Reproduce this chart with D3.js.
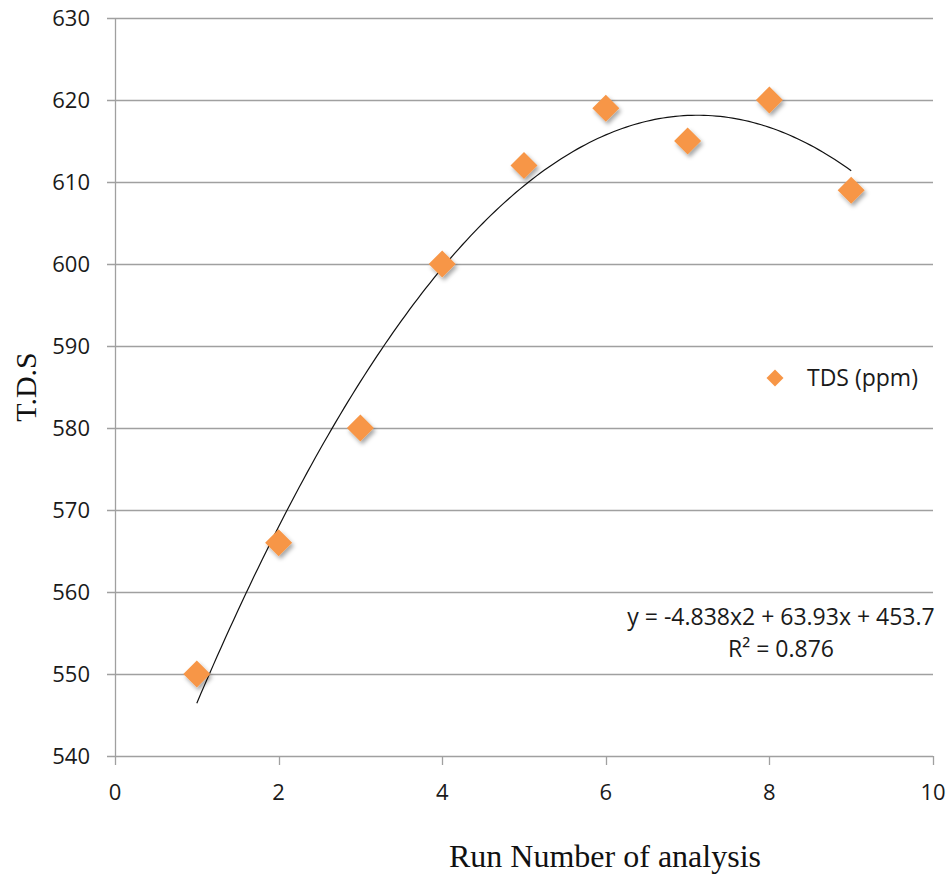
<!DOCTYPE html>
<html>
<head>
<meta charset="utf-8">
<script src="https://cdn.jsdelivr.net/npm/d3@7"></script>
<style>
  body { margin: 0; background: #fff; }
</style>
</head>
<body>
<div id="chart"></div>
<script>
const runs = [1, 2, 3, 4, 5, 6, 7, 8, 9];
const tds = [550, 566, 580, 600, 612, 619, 615, 620, 609];
const xTicks = [0, 2, 4, 6, 8, 10];
const yTicks = [540, 550, 560, 570, 580, 590, 600, 610, 620, 630];
const seriesName = "TDS (ppm)";
const equationText = "y = -4.838x2 + 63.93x + 453.7";
const r2Text = "R² = 0.876";

const width = 950;
const height = 875;
const margin = { left: 115, right: 17, top: 18, bottom: 119 };
const tickFont = "'Open Sans', 'Noto Sans', sans-serif";
const titleFont = "'Liberation Serif', 'DejaVu Serif', serif";
const orange = "#f79646";
const gridColor = "#a0a0a0";

const x = d3.scaleLinear().domain([0, 10]).range([margin.left, width - margin.right]);
const y = d3.scaleLinear().domain([540, 630]).range([height - margin.bottom, margin.top]);

// least-squares quadratic fit of the data for the trend line
const fitQuadratic = (xs, ys) => {
  let s = [0, 0, 0, 0, 0], t = [0, 0, 0];
  xs.forEach((xv, i) => {
    for (let k = 0; k < 5; k++) s[k] += Math.pow(xv, k);
    for (let k = 0; k < 3; k++) t[k] += Math.pow(xv, k) * ys[i];
  });
  const m = [
    [s[0], s[1], s[2], t[0]],
    [s[1], s[2], s[3], t[1]],
    [s[2], s[3], s[4], t[2]],
  ];
  for (let i = 0; i < 3; i++) {
    for (let j = i + 1; j < 3; j++) {
      const f = m[j][i] / m[i][i];
      for (let k = i; k < 4; k++) m[j][k] -= f * m[i][k];
    }
  }
  const c = [0, 0, 0];
  for (let i = 2; i >= 0; i--) {
    let v = m[i][3];
    for (let k = i + 1; k < 3; k++) v -= m[i][k] * c[k];
    c[i] = v / m[i][i];
  }
  return (xv) => c[0] + c[1] * xv + c[2] * xv * xv;
};

// diamond2 radius = sqrt(size) * 0.62625
const diamondSize = (r) => Math.pow(r / 0.62625, 2);

const svg = d3
  .select("#chart")
  .append("svg")
  .attr("width", width)
  .attr("height", height);

const defs = svg.append("defs");
defs
  .append("filter")
  .attr("id", "shadow")
  .attr("x", "-50%")
  .attr("y", "-50%")
  .attr("width", "200%")
  .attr("height", "200%")
  .append("feDropShadow")
  .attr("dx", 2)
  .attr("dy", 3)
  .attr("stdDeviation", 2)
  .attr("flood-color", "#000")
  .attr("flood-opacity", 0.35);

// horizontal grid lines (with the little tick stubs on the left)
svg
  .append("g")
  .selectAll("line")
  .data(yTicks)
  .join("line")
  .attr("x1", margin.left - 8)
  .attr("x2", width - margin.right)
  .attr("y1", (d) => Math.round(y(d)) + 0.5)
  .attr("y2", (d) => Math.round(y(d)) + 0.5)
  .attr("stroke", gridColor)
  .attr("stroke-width", 1.3);

// vertical axis line
svg
  .append("line")
  .attr("x1", margin.left + 0.5)
  .attr("x2", margin.left + 0.5)
  .attr("y1", y(630))
  .attr("y2", y(540))
  .attr("stroke", gridColor)
  .attr("stroke-width", 1.3);

// x tick stubs
svg
  .append("g")
  .selectAll("line")
  .data(xTicks)
  .join("line")
  .attr("x1", (d) => Math.round(x(d)) + 0.5)
  .attr("x2", (d) => Math.round(x(d)) + 0.5)
  .attr("y1", y(540))
  .attr("y2", y(540) + 9)
  .attr("stroke", gridColor)
  .attr("stroke-width", 1.3);

// tick labels
svg
  .append("g")
  .selectAll("text")
  .data(yTicks)
  .join("text")
  .attr("x", margin.left - 25)
  .attr("y", (d) => y(d))
  .attr("dy", "0.35em")
  .attr("text-anchor", "end")
  .style("font-family", tickFont)
  .style("font-size", "22px")
  .attr("fill", "#1a1a1a")
  .text((d) => d);

svg
  .append("g")
  .selectAll("text")
  .data(xTicks)
  .join("text")
  .attr("x", (d) => x(d))
  .attr("y", y(540) + 44)
  .attr("text-anchor", "middle")
  .style("font-family", tickFont)
  .style("font-size", "22px")
  .attr("fill", "#1a1a1a")
  .text((d) => d);

// axis titles
svg
  .append("text")
  .attr("transform", `translate(36, ${y(585)}) rotate(-90)`)
  .attr("text-anchor", "middle")
  .style("font-family", titleFont)
  .style("font-size", "30px")
  .attr("fill", "#111")
  .text("T.D.S");

svg
  .append("text")
  .attr("x", 605)
  .attr("y", 867)
  .attr("text-anchor", "middle")
  .style("font-family", titleFont)
  .style("font-size", "32px")
  .attr("fill", "#111")
  .text("Run Number of analysis");

// trend line
const trend = fitQuadratic(runs, tds);
const trendPoints = d3.range(0, 161).map((i) => 1 + (i * (runs[runs.length - 1] - runs[0])) / 160);
svg
  .append("path")
  .datum(trendPoints)
  .attr("fill", "none")
  .attr("stroke", "#111")
  .attr("stroke-width", 1.2)
  .attr(
    "d",
    d3
      .line()
      .x((d) => x(d))
      .y((d) => y(trend(d)))
  );

// markers
svg
  .append("g")
  .selectAll("path")
  .data(runs.map((r, i) => ({ r, v: tds[i] })))
  .join("path")
  .attr("transform", (d) => `translate(${x(d.r)}, ${y(d.v)})`)
  .attr("d", d3.symbol().type(d3.symbolDiamond2).size(diamondSize(13.5))())
  .attr("fill", orange)
  .attr("filter", "url(#shadow)");

// legend
svg
  .append("path")
  .attr("transform", "translate(775, 378)")
  .attr("d", d3.symbol().type(d3.symbolDiamond2).size(diamondSize(8.5))())
  .attr("fill", orange);

svg
  .append("text")
  .attr("x", 807)
  .attr("y", 386)
  .style("font-family", tickFont)
  .style("font-size", "23px")
  .attr("fill", "#1a1a1a")
  .text(seriesName);

// equation labels
svg
  .append("text")
  .attr("x", 781)
  .attr("y", 625)
  .attr("text-anchor", "middle")
  .style("font-family", tickFont)
  .style("font-size", "23px")
  .attr("fill", "#1a1a1a")
  .text(equationText);

svg
  .append("text")
  .attr("x", 781)
  .attr("y", 657)
  .attr("text-anchor", "middle")
  .style("font-family", tickFont)
  .style("font-size", "23px")
  .attr("fill", "#1a1a1a")
  .text(r2Text);
</script>
</body>
</html>
